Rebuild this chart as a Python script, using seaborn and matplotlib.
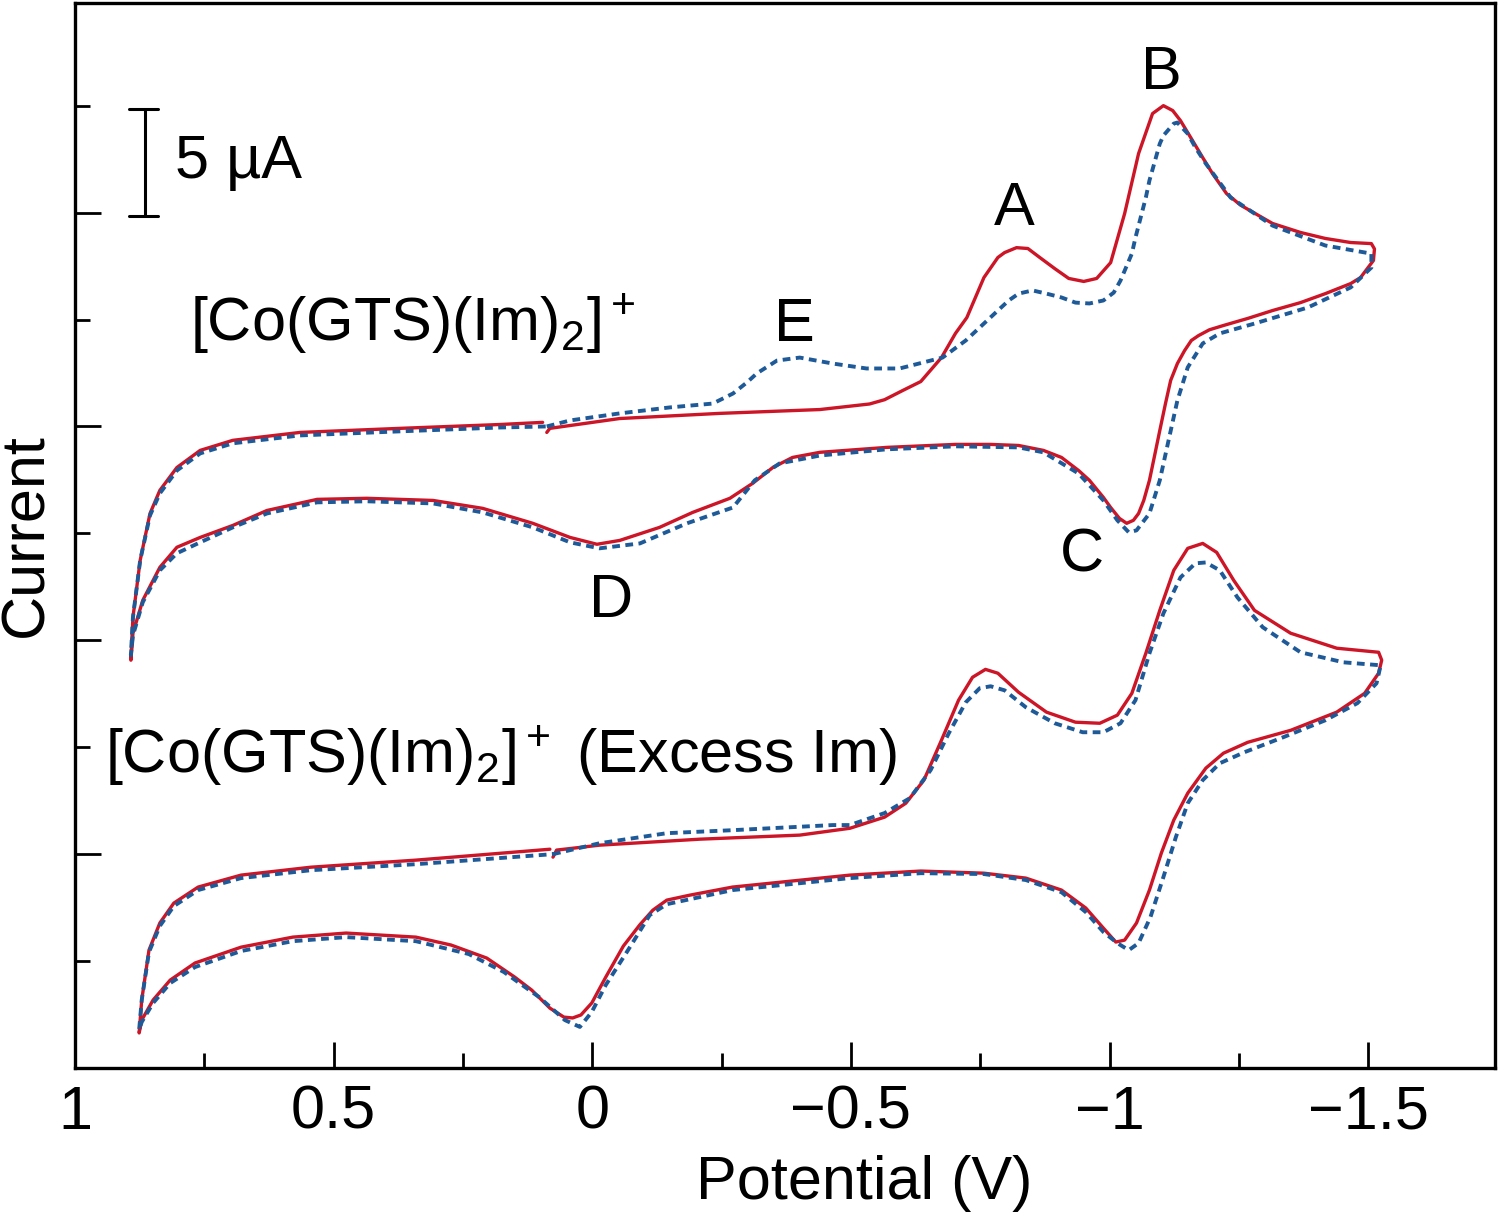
import numpy as np
import pandas as pd
import matplotlib
matplotlib.use("Agg")
import matplotlib.pyplot as plt
import seaborn as sns
from matplotlib.ticker import MultipleLocator

# ── DATA (potential in V, current in µA) ─────────────────────────────────────
# upper pair: [Co(GTS)(Im)2]+
up_red_v = [0.088, 0.082, -0.053, -0.246, -0.440, -0.536, -0.565, -0.600, -0.635,
            -0.675, -0.702, -0.724, -0.757, -0.784, -0.797, -0.820, -0.842, -0.865,
            -0.894, -0.921, -0.950, -0.975, -1.002, -1.029, -1.056, -1.083, -1.104,
            -1.122, -1.137, -1.158, -1.180, -1.199, -1.226, -1.253, -1.315, -1.369,
            -1.417, -1.466, -1.506, -1.512, -1.510, -1.485, -1.466, -1.417, -1.369,
            -1.315, -1.267, -1.220, -1.193, -1.172, -1.158, -1.145, -1.131, -1.118,
            -1.108, -1.097, -1.087, -1.077, -1.066, -1.056, -1.046, -1.033, -1.019,
            -1.002, -0.988, -0.961, -0.940, -0.907, -0.872, -0.824, -0.770, -0.702,
            -0.569, -0.440, -0.387, -0.349, -0.310, -0.266, -0.194, -0.130, -0.053,
            -0.009, 0.043, 0.115, 0.212, 0.308, 0.436, 0.532, 0.629, 0.695, 0.758,
            0.803, 0.836, 0.869, 0.888, 0.892, 0.888, 0.874, 0.855, 0.836, 0.803,
            0.758, 0.695, 0.565, 0.372, 0.179, 0.096]
up_red_i = [29.72, 29.91, 30.37, 30.61, 30.79, 31.05, 31.25, 31.68, 32.10,
            33.22, 34.35, 35.09, 36.96, 37.90, 38.13, 38.36, 38.32, 37.90,
            37.38, 36.92, 36.78, 36.92, 37.66, 39.95, 42.76, 44.63, 45.00,
            44.77, 44.30, 43.46, 42.57, 41.82, 40.89, 40.35, 39.49, 39.07,
            38.79, 38.60, 38.55, 38.30, 37.76, 36.96, 36.68, 36.21, 35.79,
            35.42, 35.05, 34.72, 34.52, 34.25, 34.02, 33.55, 32.94, 32.15,
            31.07, 29.81, 28.64, 27.48, 26.54, 25.93, 25.61, 25.47, 25.70,
            26.21, 26.68, 27.48, 27.94, 28.55, 28.88, 29.11, 29.16, 29.16,
            29.02, 28.79, 28.55, 28.08, 27.34, 26.64, 25.98, 25.28, 24.67,
            24.49, 24.81, 25.47, 26.17, 26.54, 26.64, 26.59, 26.07, 25.37, 24.81,
            24.35, 23.41, 21.87, 20.33, 19.07, 21.07, 23.74, 25.93, 27.01, 28.08,
            28.88, 29.35, 29.72, 29.91, 30.09, 30.19]

up_blue_v = [0.088, 0.043, -0.053, -0.150, -0.233, -0.272, -0.299, -0.318, -0.357,
             -0.401, -0.465, -0.530, -0.594, -0.654, -0.677, -0.722, -0.784, -0.805,
             -0.824, -0.851, -0.878, -0.907, -0.934, -0.961, -0.988, -1.008, -1.021,
             -1.043, -1.050, -1.070, -1.077, -1.097, -1.104, -1.124, -1.131, -1.151,
             -1.166, -1.186, -1.220, -1.234, -1.315, -1.417, -1.506, -1.506, -1.466,
             -1.383, -1.280, -1.213, -1.180, -1.151, -1.131, -1.114, -1.097, -1.077,
             -1.052, -1.037, -1.015, -0.988, -0.940, -0.872, -0.824, -0.702, -0.569,
             -0.440, -0.362, -0.314, -0.272, -0.183, -0.092, -0.014, 0.043, 0.115,
             0.212, 0.308, 0.436, 0.532, 0.629, 0.695, 0.758, 0.803, 0.836, 0.869,
             0.888, 0.892, 0.888, 0.874, 0.855, 0.836, 0.803, 0.758, 0.695, 0.565,
             0.372, 0.179, 0.088]
up_blue_i = [30.00, 30.28, 30.61, 30.89, 31.07, 31.54, 32.06, 32.48, 33.08,
             33.22, 32.94, 32.71, 32.71, 33.08, 33.22, 34.02, 35.42, 35.89,
             36.21, 36.36, 36.21, 36.03, 35.79, 35.75, 35.89, 36.26, 36.82,
             38.08, 38.83, 40.70, 41.50, 43.22, 43.60, 44.16, 44.21, 43.69,
             43.04, 42.29, 41.17, 40.70, 39.39, 38.46, 38.08, 37.43, 36.50,
             35.56, 34.81, 34.35, 33.88, 32.76, 31.21, 29.35, 27.48, 25.93,
             25.14, 25.05, 25.61, 26.54, 27.80, 28.79, 29.02, 29.07, 28.93,
             28.64, 28.27, 27.48, 26.21, 25.47, 24.53, 24.30, 24.58, 25.28,
             25.98, 26.40, 26.50, 26.45, 25.93, 25.28, 24.58, 24.07, 23.27, 21.78,
             20.23, 19.30, 21.07, 23.74, 25.84, 26.87, 27.94, 28.74, 29.21, 29.58,
             29.77, 29.95, 30.00]

# lower pair: [Co(GTS)(Im)2]+ with excess Im
lo_red_v = [0.076, 0.069, -0.014, -0.208, -0.401, -0.498, -0.565, -0.606, -0.641,
            -0.675, -0.708, -0.735, -0.760, -0.784, -0.824, -0.878, -0.934, -0.981,
            -1.015, -1.043, -1.070, -1.097, -1.124, -1.151, -1.180, -1.207, -1.240,
            -1.280, -1.350, -1.439, -1.520, -1.526, -1.520, -1.493, -1.439, -1.350,
            -1.267, -1.220, -1.186, -1.151, -1.124, -1.100, -1.077, -1.052, -1.029,
            -1.012, -0.988, -0.954, -0.907, -0.838, -0.757, -0.635, -0.498, -0.271,
            -0.188, -0.144, -0.117, -0.092, -0.060, -0.026, 0.001, 0.022, 0.038,
            0.055, 0.082, 0.117, 0.150, 0.204, 0.273, 0.341, 0.476, 0.579, 0.679,
            0.768, 0.816, 0.849, 0.871, 0.876, 0.871, 0.857, 0.836, 0.809, 0.762,
            0.679, 0.544, 0.341, 0.082]
lo_red_i = [9.86, 10.19, 10.42, 10.70, 10.89, 11.21, 11.73, 12.38, 13.46,
            15.33, 17.20, 18.27, 18.64, 18.46, 17.57, 16.64, 16.17, 16.12,
            16.50, 17.52, 19.39, 21.40, 23.27, 24.30, 24.53, 24.11, 22.80,
            21.40, 20.33, 19.63, 19.44, 19.07, 18.46, 17.52, 16.64, 15.79,
            15.23, 14.72, 14.02, 12.85, 11.59, 10.05, 8.32, 6.78, 5.98,
            5.89, 6.54, 7.48, 8.32, 8.88, 9.11, 9.21, 9.02, 8.46,
            8.08, 7.85, 7.38, 6.70, 5.70, 4.25, 3.04, 2.48, 2.34,
            2.38, 2.80, 3.64, 4.25, 5.14, 5.75, 6.12, 6.31, 6.12, 5.65,
            4.91, 4.11, 3.18, 2.24, 1.64, 3.18, 5.51, 6.78, 7.71, 8.46,
            9.02, 9.39, 9.72, 10.23]

lo_blue_v = [0.076, -0.014, -0.144, -0.271, -0.465, -0.498, -0.565, -0.614, -0.654,
             -0.689, -0.722, -0.749, -0.770, -0.797, -0.838, -0.894, -0.948, -0.988,
             -1.021, -1.050, -1.077, -1.104, -1.137, -1.166, -1.186, -1.213, -1.247,
             -1.296, -1.369, -1.452, -1.524, -1.516, -1.479, -1.417, -1.336, -1.261,
             -1.213, -1.180, -1.151, -1.128, -1.104, -1.079, -1.056, -1.037, -1.015,
             -0.988, -0.954, -0.907, -0.838, -0.757, -0.635, -0.498, -0.271, -0.144,
             -0.111, -0.069, -0.026, 0.001, 0.024, 0.053, 0.103, 0.171, 0.239,
             0.341, 0.476, 0.579, 0.679, 0.768, 0.816, 0.849, 0.871, 0.876, 0.871,
             0.857, 0.836, 0.809, 0.762, 0.679, 0.544, 0.341, 0.076]
lo_blue_i = [10.00, 10.51, 10.98, 11.12, 11.36, 11.36, 11.92, 12.62, 13.93,
             15.65, 17.10, 17.76, 17.85, 17.66, 16.87, 16.12, 15.70, 15.70,
             16.12, 17.20, 19.39, 21.26, 22.94, 23.60, 23.64, 23.27, 22.01,
             20.61, 19.44, 18.97, 18.83, 17.99, 17.06, 16.26, 15.47, 14.77,
             14.25, 13.46, 12.38, 10.79, 8.93, 7.06, 5.84, 5.51, 5.84,
             6.36, 7.29, 8.22, 8.79, 9.07, 9.11, 8.88, 8.32, 7.66,
             7.15, 5.51, 3.88, 2.62, 1.92, 2.24, 3.32, 4.49, 5.33,
             5.93, 6.12, 5.93, 5.47, 4.72, 3.97, 3.04, 2.15, 1.78, 3.18,
             5.42, 6.64, 7.57, 8.32, 8.88, 9.25, 9.53, 10.00]

# peak letters: label, potential, current (baseline)
peak_labels = ["A", "B", "C", "D", "E"]
peak_v = [-0.816, -1.100, -0.946, -0.036, -0.391]
peak_i = [39.4, 45.8, 23.2, 21.1, 34.0]

# scale bar (5 µA)
bar_v = 0.865
bar_lo, bar_hi = 39.86, 44.86

RED = "#CC1526"
BLUE = "#1F5A98"

# ── STYLE ───────────────────────────────────────────────────────────────────
sns.set_style("ticks")
plt.rcParams["font.family"] = ["Liberation Sans", "DejaVu Sans"]
plt.rcParams["mathtext.fontset"] = "custom"
plt.rcParams["mathtext.rm"] = "Liberation Sans"
plt.rcParams["mathtext.it"] = "Liberation Sans:italic"
plt.rcParams["mathtext.bf"] = "Liberation Sans:bold"
plt.rcParams["text.color"] = "black"
plt.rcParams["axes.labelcolor"] = "black"
plt.rcParams["xtick.color"] = "black"
plt.rcParams["ytick.color"] = "black"
FS = 44

fig = plt.figure(figsize=(15, 12.25), dpi=100)
ax = fig.add_axes([75 / 1500, 1 - 1068 / 1225, 1420 / 1500, 1065 / 1225])

curves = [
    (up_red_v, up_red_i, RED, "-"),
    (lo_red_v, lo_red_i, RED, "-"),
    (up_blue_v, up_blue_i, BLUE, (0, (2.0, 1.4))),
    (lo_blue_v, lo_blue_i, BLUE, (0, (2.0, 1.4))),
]
for v, i, col, ls in curves:
    d = pd.DataFrame({"v": v, "i": i})
    sns.lineplot(data=d, x="v", y="i", sort=False, estimator=None, ax=ax,
                 color=col, linewidth=2.4 if ls == "-" else 2.8, linestyle=ls,
                 solid_joinstyle="round", dash_joinstyle="round")

# scale bar
ax.plot([bar_v, bar_v], [bar_lo, bar_hi], color="black", lw=2.2)
ax.plot([bar_v + 0.03, bar_v - 0.025], [bar_lo, bar_lo], color="black", lw=2.2)
ax.plot([bar_v + 0.03, bar_v - 0.025], [bar_hi, bar_hi], color="black", lw=2.2)
ax.text(0.807, 41.6, "5 µA", fontsize=FS, ha="left", va="baseline")

for lab, v, i in zip(peak_labels, peak_v, peak_i):
    ax.text(v, i, lab, fontsize=FS, ha="center", va="baseline")

ax.text(0.778, 34.0, r"[Co(GTS)(Im)$_2$]$^+$", fontsize=FS, ha="left", va="baseline")
ax.text(0.942, 13.8, r"[Co(GTS)(Im)$_2$]$^+$ (Excess Im)", fontsize=FS,
        ha="left", va="baseline")

ax.set_xlim(1.0, -1.745)
ax.set_ylim(0, 49.8)
ax.xaxis.set_minor_locator(MultipleLocator(0.25))
ax.yaxis.set_major_locator(MultipleLocator(10))
ax.yaxis.set_minor_locator(MultipleLocator(5))
ax.set_xticks([1.0, 0.5, 0.0, -0.5, -1.0, -1.5])
ax.set_xticklabels(["1", "0.5", "0", "\u22120.5", "\u22121", "\u22121.5"])
ax.set_yticklabels([])
ax.tick_params(axis="both", which="major", direction="in", length=19, width=2.0,
               labelsize=FS, pad=12, colors="black")
ax.tick_params(axis="both", which="minor", direction="in", length=11, width=2.0)
ax.tick_params(top=False, right=False, which="both")
for s in ax.spines.values():
    s.set_linewidth(2.4)
    s.set_color("black")
ax.set_xlabel("")
ax.set_ylabel("")

fig.text(864 / 1500, 1 - 1183 / 1225, "Potential (V)", fontsize=FS,
         ha="center", va="center")
fig.text(27 / 1500, 1 - 535 / 1225, "Current", fontsize=FS, rotation=90,
         ha="center", va="center")

fig.savefig("out.png", dpi=100)
